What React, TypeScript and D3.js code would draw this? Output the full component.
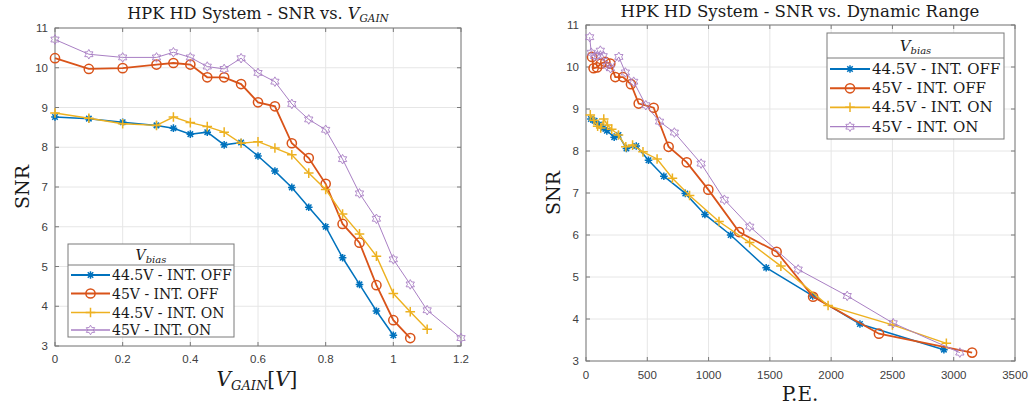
import React from "react";
import * as d3 from "d3";

// ---------- data ----------
const seriesNames = ["44.5V - INT. OFF", "45V - INT. OFF", "44.5V - INT. ON", "45V - INT. ON"];

const vgainOff445 = [0, 0.1, 0.2, 0.3, 0.35, 0.4, 0.45, 0.5, 0.55, 0.6, 0.65, 0.7, 0.75, 0.8, 0.85, 0.9, 0.95, 1.0];
const snrOff445 = [8.76, 8.72, 8.63, 8.55, 8.48, 8.33, 8.38, 8.06, 8.12, 7.78, 7.40, 6.99, 6.49, 6.00, 5.22, 4.55, 3.88, 3.27];
const peOff445 = [40, 70, 105, 140, 170, 230, 265, 330, 410, 510, 635, 810, 970, 1180, 1470, 1850, 2235, 2920];

const vgainOff45 = [0, 0.1, 0.2, 0.3, 0.35, 0.4, 0.45, 0.5, 0.55, 0.6, 0.65, 0.7, 0.75, 0.8, 0.85, 0.9, 0.95, 1.0, 1.05];
const snrOff45 = [10.24, 9.97, 9.99, 10.08, 10.12, 10.08, 9.76, 9.76, 9.59, 9.13, 9.03, 8.10, 7.73, 7.08, 6.07, 5.60, 4.53, 3.65, 3.20];
const peOff45 = [49, 62, 90, 122, 158, 198, 239, 302, 367, 430, 552, 674, 822, 998, 1250, 1555, 1853, 2390, 3150];

const vgainOn445 = [0, 0.1, 0.2, 0.3, 0.35, 0.4, 0.45, 0.5, 0.55, 0.6, 0.65, 0.7, 0.75, 0.8, 0.85, 0.9, 0.95, 1.0, 1.05, 1.1];
const snrOn445 = [8.86, 8.73, 8.59, 8.55, 8.76, 8.62, 8.52, 8.38, 8.10, 8.14, 7.98, 7.81, 7.35, 6.94, 6.32, 5.82, 5.26, 4.32, 3.86, 3.42];
const peOn445 = [35, 65, 95, 120, 145, 175, 210, 265, 325, 380, 465, 580, 705, 845, 1085, 1335, 1590, 1975, 2500, 2940];

const vgainOn45 = [0, 0.1, 0.2, 0.3, 0.35, 0.4, 0.45, 0.5, 0.55, 0.6, 0.65, 0.7, 0.75, 0.8, 0.85, 0.9, 0.95, 1.0, 1.05, 1.1, 1.2];
const snrOn45 = [10.71, 10.34, 10.26, 10.26, 10.39, 10.26, 10.03, 9.97, 10.24, 9.87, 9.65, 9.09, 8.70, 8.44, 7.70, 6.84, 6.20, 5.18, 4.55, 3.90, 3.20];
const peOn45 = [30, 43, 70, 95, 117, 140, 170, 200, 268, 321, 389, 488, 600, 721, 939, 1129, 1336, 1731, 2131, 2506, 3050];

const vgainTicks = [0, 0.2, 0.4, 0.6, 0.8, 1, 1.2];
const peTicks = [0, 500, 1000, 1500, 2000, 2500, 3000, 3500];
const snrTicks = [3, 4, 5, 6, 7, 8, 9, 10, 11];

// ---------- styles ----------
const colors = ["#0072BD", "#D95319", "#EDB120", "#A97FC4"];
const widths = [1.5, 1.8, 1.4, 1.0];
const markers = ["star", "circle", "plus", "hex"];

const SERIF = "'DejaVu Serif', serif";
const SANS = "'Liberation Sans', Arial, sans-serif";

function Marker({ type, x, y, color }: { type: string; x: number; y: number; color: string }) {
  if (type === "circle") {
    return <circle cx={x} cy={y} r={4.6} fill="none" stroke={color} strokeWidth={1.5} />;
  }
  if (type === "plus") {
    const s = 4.8;
    return (
      <path d={`M${x - s},${y}H${x + s}M${x},${y - s}V${y + s}`} stroke={color} strokeWidth={1.5} fill="none" />
    );
  }
  if (type === "star") {
    const s = 3.8;
    const d = s * 0.72;
    return (
      <path
        d={`M${x - s},${y}H${x + s}M${x},${y - s}V${y + s}M${x - d},${y - d}L${x + d},${y + d}M${x - d},${y + d}L${x + d},${y - d}`}
        stroke={color}
        strokeWidth={1.5}
        fill="none"
      />
    );
  }
  // hexagram
  const ro = 4.8;
  const ri = ro / Math.sqrt(3);
  const pts: string[] = [];
  for (let i = 0; i < 12; i++) {
    const r = i % 2 === 0 ? ro : ri;
    const a = (-90 + i * 30) * (Math.PI / 180);
    pts.push(`${x + r * Math.cos(a)},${y + r * Math.sin(a)}`);
  }
  return <polygon points={pts.join(" ")} fill="none" stroke={color} strokeWidth={0.9} />;
}

type Series = { xs: number[]; ys: number[] };

function Panel(props: {
  xDomain: [number, number];
  xRange: [number, number];
  yRange: [number, number];
  xTicks: number[];
  xFmt: (v: number) => string;
  series: Series[];
  title: React.ReactNode;
  titleX: number;
  titleY: number;
  titleSize: number;
  xLabel: React.ReactNode;
  xLabelX: number;
  xLabelY: number;
  xTickY: number;
  yLabelX: number;
  legend: { x0: number; x1: number; y0: number; ySep: number; y1: number; rows: number[]; lx0: number; lx1: number; tx: number; fs: number };
}) {
  const { xDomain, xRange, yRange, xTicks, series, legend } = props;
  const x = d3.scaleLinear().domain(xDomain).range(xRange);
  const y = d3.scaleLinear().domain([3, 11]).range(yRange);
  const [xl, xr] = xRange;
  const [yb, yt] = yRange;
  const line = d3
    .line<[number, number]>()
    .x((d) => x(d[0]))
    .y((d) => y(d[1]));
  const tick = 4;
  return (
    <g>
      {/* grid */}
      {xTicks.map((t) => (
        <line key={"gx" + t} x1={x(t)} x2={x(t)} y1={yt} y2={yb} stroke="#e6e6e6" strokeWidth={1} />
      ))}
      {snrTicks.map((t) => (
        <line key={"gy" + t} x1={xl} x2={xr} y1={y(t)} y2={y(t)} stroke="#e6e6e6" strokeWidth={1} />
      ))}
      {/* frame */}
      <rect x={xl} y={yt} width={xr - xl} height={yb - yt} fill="none" stroke="#7a7a7a" strokeWidth={1} />
      {xTicks.map((t) => (
        <g key={"tx" + t}>
          <line x1={x(t)} x2={x(t)} y1={yb} y2={yb - tick} stroke="#7a7a7a" />
          <line x1={x(t)} x2={x(t)} y1={yt} y2={yt + tick} stroke="#7a7a7a" />
          <text x={x(t)} y={props.xTickY} textAnchor="middle" fontFamily={SANS} fontSize={11.5} fill="#404040">
            {props.xFmt(t)}
          </text>
        </g>
      ))}
      {snrTicks.map((t) => (
        <g key={"ty" + t}>
          <line x1={xl} x2={xl + tick} y1={y(t)} y2={y(t)} stroke="#7a7a7a" />
          <line x1={xr} x2={xr - tick} y1={y(t)} y2={y(t)} stroke="#7a7a7a" />
          <text x={xl - 7} y={y(t) + 4} textAnchor="end" fontFamily={SANS} fontSize={11.5} fill="#404040">
            {t}
          </text>
        </g>
      ))}
      {/* series */}
      {series.map((s, i) => {
        const pts: [number, number][] = s.xs.map((v, k) => [v, s.ys[k]]);
        return (
          <g key={"s" + i}>
            <path d={line(pts) || ""} fill="none" stroke={colors[i]} strokeWidth={widths[i]} />
            {pts.map((p, k) => (
              <Marker key={k} type={markers[i]} x={x(p[0])} y={y(p[1])} color={colors[i]} />
            ))}
          </g>
        );
      })}
      {/* title and labels */}
      <text x={props.titleX} y={props.titleY} textAnchor="middle" fontFamily={SERIF} fontSize={props.titleSize} fill="#1a1a1a">
        {props.title}
      </text>
      <text x={props.xLabelX} y={props.xLabelY} textAnchor="middle" fontFamily={SERIF} fontSize={20} fill="#1a1a1a">
        {props.xLabel}
      </text>
      <text
        transform={`translate(${props.yLabelX},${(yt + yb) / 2}) rotate(-90)`}
        textAnchor="middle"
        fontFamily={SERIF}
        fontSize={19}
        fill="#1a1a1a"
      >
        SNR
      </text>
      {/* legend */}
      <rect
        x={legend.x0}
        y={legend.y0}
        width={legend.x1 - legend.x0}
        height={legend.y1 - legend.y0}
        fill="#ffffff"
        stroke="#7a7a7a"
        strokeWidth={1}
      />
      <line x1={legend.x0} x2={legend.x1} y1={legend.ySep} y2={legend.ySep} stroke="#7a7a7a" strokeWidth={1} />
      <text
        x={(legend.x0 + legend.x1) / 2}
        y={(legend.y0 + legend.ySep) / 2 + 5}
        textAnchor="middle"
        fontFamily={SERIF}
        fontSize={legend.fs}
        fill="#1a1a1a"
      >
        <tspan fontStyle="italic">V</tspan>
        <tspan fontStyle="italic" fontSize={10} dy={3}>
          bias
        </tspan>
      </text>
      {seriesNames.map((n, i) => {
        const ry = legend.rows[i];
        return (
          <g key={"l" + i}>
            <line x1={legend.lx0} x2={legend.lx1} y1={ry} y2={ry} stroke={colors[i]} strokeWidth={widths[i] + 0.3} />
            <Marker type={markers[i]} x={(legend.lx0 + legend.lx1) / 2} y={ry} color={colors[i]} />
            <text x={legend.tx} y={ry + 5} fontFamily={SERIF} fontSize={legend.fs} fill="#1a1a1a">
              {n}
            </text>
          </g>
        );
      })}
    </g>
  );
}

export default function App() {
  const leftSeries: Series[] = [
    { xs: vgainOff445, ys: snrOff445 },
    { xs: vgainOff45, ys: snrOff45 },
    { xs: vgainOn445, ys: snrOn445 },
    { xs: vgainOn45, ys: snrOn45 },
  ];
  const rightSeries: Series[] = [
    { xs: peOff445, ys: snrOff445 },
    { xs: peOff45, ys: snrOff45 },
    { xs: peOn445, ys: snrOn445 },
    { xs: peOn45, ys: snrOn45 },
  ];
  return (
    <svg
      width={1032}
      height={405}
      viewBox="0 0 1032 405"
      style={{ position: "absolute", left: 0, top: 0, background: "#ffffff" }}
    >
      <rect x={0} y={0} width={1032} height={405} fill="#ffffff" />
      <Panel
        xDomain={[0, 1.2]}
        xRange={[55, 461]}
        yRange={[346, 28]}
        xTicks={vgainTicks}
        xFmt={(v) => (v === 0 || v === 1 ? String(v) : d3.format(".1f")(v))}
        series={leftSeries}
        title={
          <>
            <tspan>HPK HD System - SNR vs. </tspan>
            <tspan fontStyle="italic">V</tspan>
            <tspan fontStyle="italic" fontSize={10.5} dy={3}>
              GAIN
            </tspan>
          </>
        }
        titleX={258}
        titleY={19}
        titleSize={16.2}
        xLabel={
          <>
            <tspan fontStyle="italic">V</tspan>
            <tspan fontStyle="italic" fontSize={13} dy={4}>
              GAIN
            </tspan>
            <tspan dy={-4}>[</tspan>
            <tspan fontStyle="italic">V</tspan>
            <tspan>]</tspan>
          </>
        }
        xLabelX={257}
        xLabelY={386}
        xTickY={363}
        yLabelX={29}
        legend={{
          x0: 68,
          x1: 234,
          y0: 244,
          ySep: 265,
          y1: 337,
          rows: [275, 293.5, 312.5, 330],
          lx0: 71,
          lx1: 110,
          tx: 112,
          fs: 14,
        }}
      />
      <Panel
        xDomain={[0, 3500]}
        xRange={[586, 1015]}
        yRange={[361, 25]}
        xTicks={peTicks}
        xFmt={(v) => String(v)}
        series={rightSeries}
        title={<tspan>HPK HD System - SNR vs. Dynamic Range</tspan>}
        titleX={800}
        titleY={17}
        titleSize={16.6}
        xLabel={<tspan>P.E.</tspan>}
        xLabelX={800}
        xLabelY={401}
        xTickY={379}
        yLabelX={560}
        legend={{
          x0: 827,
          x1: 1004,
          y0: 33,
          ySep: 58,
          y1: 139,
          rows: [69, 88.3, 107.3, 126.7],
          lx0: 830,
          lx1: 870,
          tx: 872,
          fs: 15,
        }}
      />
    </svg>
  );
}
